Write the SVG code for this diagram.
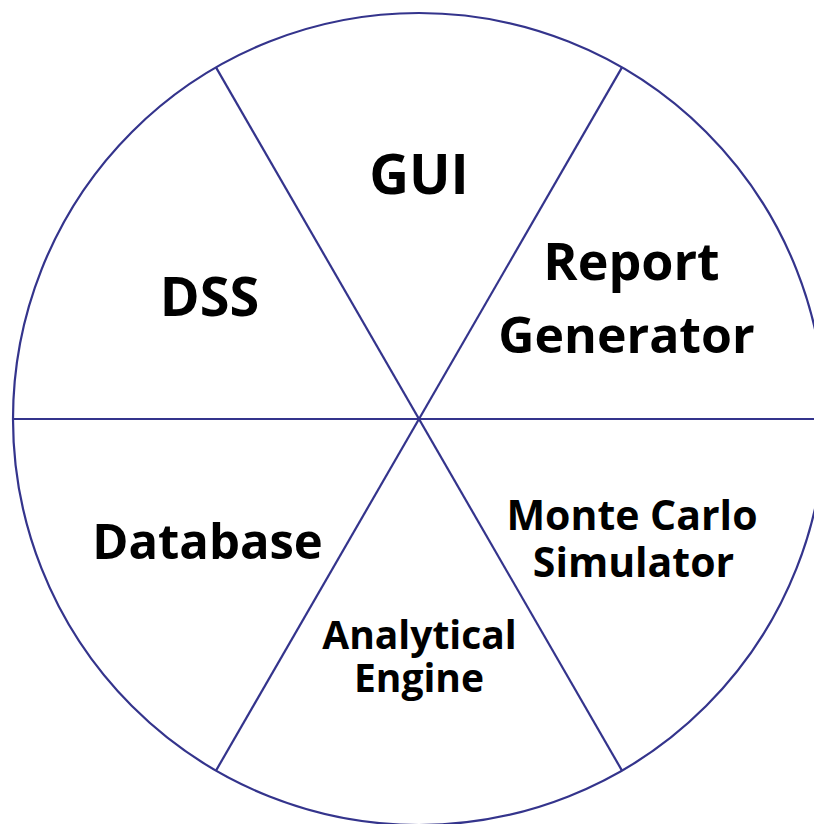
<svg xmlns="http://www.w3.org/2000/svg" width="814" height="824" viewBox="0 0 814 824">
<style>
.ln{stroke:#34348c;stroke-width:2.2;fill:none}
.t{font-family:"Open Sans","Liberation Sans",sans-serif;font-weight:bold;fill:#000;text-anchor:middle}
</style>
<rect width="814" height="824" fill="#fff"/>
<g id="connectors">
<circle class="ln" cx="419" cy="419" r="406"/>
<line class="ln" x1="13" y1="419" x2="825" y2="419"/>
<line class="ln" x1="216" y1="67.4" x2="622" y2="770.6"/>
<line class="ln" x1="622" y1="67.4" x2="216" y2="770.6"/>
</g>
<g id="gui"><text class="t" x="419" y="194" font-size="55">GUI</text></g>
<g id="dss"><text class="t" x="209.5" y="316" font-size="54">DSS</text></g>
<g id="report"><text class="t" x="631.5" y="280" font-size="52">Report</text><text class="t" x="626.5" y="353" font-size="50">Generator</text></g>
<g id="database"><text class="t" x="207.5" y="559" font-size="49">Database</text></g>
<g id="monte"><text class="t" x="632" y="530" font-size="41">Monte Carlo</text><text class="t" x="633.5" y="577" font-size="41">Simulator</text></g>
<g id="analytical"><text class="t" x="419.5" y="649" font-size="39">Analytical</text><text class="t" x="419" y="692" font-size="39">Engine</text></g>
</svg>
